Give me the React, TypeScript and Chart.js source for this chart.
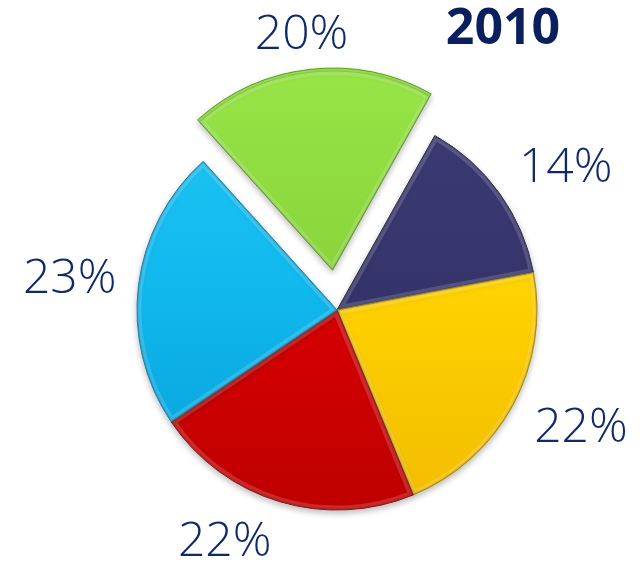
import React, { useEffect, useRef } from "react";
import { Chart, registerables } from "chart.js";

Chart.register(...registerables);

const categories = ["Segment A", "Segment B", "Segment C", "Segment D", "Segment E"];
const values = [20, 14, 22, 22, 23];
const valueLabels = values.map((v) => `${v}%`);
const chartTitle = "2010";

const baseColors = ["#8ad63c", "#35346a", "#ffd200", "#d90000", "#10b8ee"];
const lightColors = ["#9ae84a", "#3d3c78", "#ffe01a", "#ee0a0a", "#22c8f6"];
const darkColors = ["#74b82c", "#2a2956", "#f2bc00", "#bf0000", "#049fd8"];
const edgeColors = ["#5f9a22", "#1e1d40", "#b08800", "#8a0000", "#0880b0"];

const RADIUS = 200;
const EXPLODE_PX = 40;
const LABEL_DIST = [277, 269, 271, 258, 269];
const LABEL_ANGLE_NUDGE = [-1, 4, -2.6, 9, -0.5];

const bevelPlugin = {
  id: "bevel",
  beforeDatasetDraw(chart: any) {
    const ctx = chart.ctx;
    ctx.save();
    ctx.shadowColor = "rgba(0,0,0,0.25)";
    ctx.shadowBlur = 6;
    ctx.shadowOffsetY = 3;
  },
  afterDatasetDraw(chart: any) {
    const ctx = chart.ctx;
    ctx.restore();
    const meta = chart.getDatasetMeta(0);
    meta.data.forEach((arc: any) => {
      const p = arc.getProps(["x", "y", "startAngle", "endAngle", "outerRadius"], true);
      const off = (arc.options.offset || 0) / 4;
      const mid = (p.startAngle + p.endAngle) / 2;
      const cx = p.x + Math.cos(mid) * off;
      const cy = p.y + Math.sin(mid) * off;
      ctx.save();
      ctx.beginPath();
      ctx.moveTo(cx, cy);
      ctx.arc(cx, cy, p.outerRadius, p.startAngle, p.endAngle);
      ctx.closePath();
      ctx.clip();
      ctx.lineJoin = "round";
      ctx.strokeStyle = "rgba(255,255,255,0.16)";
      ctx.lineWidth = 9;
      ctx.stroke();
      ctx.strokeStyle = "rgba(0,0,0,0.14)";
      ctx.lineWidth = 2.5;
      ctx.stroke();
      ctx.restore();
    });
  },
};

const labelPlugin = {
  id: "outerLabels",
  afterDatasetsDraw(chart: any) {
    const ctx = chart.ctx;
    const meta = chart.getDatasetMeta(0);
    ctx.save();
    ctx.fillStyle = "#0f2a6a";
    ctx.font = "300 48px 'Open Sans'";
    ctx.textAlign = "center";
    ctx.textBaseline = "middle";
    meta.data.forEach((arc: any, i: number) => {
      const p = arc.getProps(["x", "y", "startAngle", "endAngle"], true);
      const mid = (p.startAngle + p.endAngle) / 2 + (LABEL_ANGLE_NUDGE[i] * Math.PI) / 180;
      const d = LABEL_DIST[i];
      ctx.fillText(valueLabels[i], p.x + Math.cos(mid) * d, p.y + Math.sin(mid) * d);
    });
    ctx.font = "700 50px 'Open Sans'";
    ctx.fillStyle = "#0a1f5e";
    ctx.fillText(chartTitle, 503, 30);
    ctx.restore();
  },
};

export default function App() {
  const ref = useRef<HTMLCanvasElement | null>(null);

  useEffect(() => {
    if (!ref.current) return;
    const chart = new Chart(ref.current, {
      type: "pie",
      data: {
        labels: categories,
        datasets: [
          {
            data: values,
            backgroundColor: (c: any) => {
              const ch = c.chart;
              const ca = ch.chartArea;
              const i = c.dataIndex;
              if (!ca) return baseColors[i];
              const cy = (ca.top + ca.bottom) / 2;
              const g = ch.ctx.createLinearGradient(0, cy - RADIUS - 40, 0, cy + RADIUS);
              g.addColorStop(0, lightColors[i]);
              g.addColorStop(0.5, baseColors[i]);
              g.addColorStop(1, darkColors[i]);
              return g;
            },
            borderColor: edgeColors,
            borderWidth: 1,
            hoverBorderWidth: 1,
            offset: [EXPLODE_PX * 4, 0, 0, 0, 0],
            hoverOffset: 0,
          } as any,
        ],
      },
      options: {
        responsive: false,
        animation: false,
        events: [],
        rotation: -42,
        radius: RADIUS,
        layout: { padding: { left: 31, top: 56, right: 0, bottom: 0 } },
        plugins: {
          legend: { display: false },
          tooltip: { enabled: false },
          title: { display: false },
        },
      } as any,
      plugins: [bevelPlugin, labelPlugin],
    });
    return () => chart.destroy();
  }, []);

  return (
    <div style={{ position: "absolute", left: 0, top: 0, width: 643, height: 564, background: "#fff" }}>
      <canvas ref={ref} width={643} height={564} />
    </div>
  );
}
